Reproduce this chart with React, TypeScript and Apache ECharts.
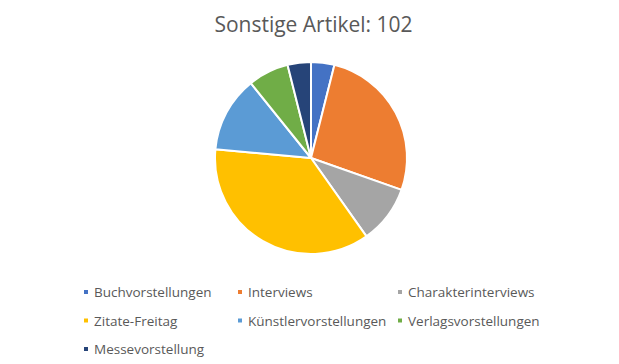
import React, { useEffect, useRef } from "react";
import * as echarts from "echarts";

const categories = [
  "Buchvorstellungen",
  "Interviews",
  "Charakterinterviews",
  "Zitate-Freitag",
  "Künstlervorstellungen",
  "Verlagsvorstellungen",
  "Messevorstellung",
];
const values = [4, 27, 10, 37, 13, 7, 4];
const colors = ["#4472C4", "#ED7D31", "#A5A5A5", "#FFC000", "#5B9BD5", "#70AD47", "#264478"];
const titleText = "Sonstige Artikel: 102";

const legendColumns = [
  ["Buchvorstellungen", "Zitate-Freitag", "Messevorstellung"],
  ["Interviews", "Künstlervorstellungen"],
  ["Charakterinterviews", "Verlagsvorstellungen"],
];
const legendLefts = [74, 228, 388];

export default function App() {
  const ref = useRef<HTMLDivElement>(null);
  useEffect(() => {
    if (!ref.current) return;
    const chart = echarts.init(ref.current, undefined, { renderer: "svg" });
    const font = "'Open Sans', 'Liberation Sans', sans-serif";
    chart.setOption({
      animation: false,
      backgroundColor: "#ffffff",
      title: {
        text: titleText,
        left: "center",
        top: 5,
        padding: 0,
        textStyle: { fontFamily: font, fontSize: 21, fontWeight: "normal", color: "#595959" },
      },
      legend: legendColumns.map((col, i) => ({
        data: col,
        orient: "vertical",
        left: legendLefts[i],
        top: 275.5,
        height: 90,
        padding: 0,
        itemWidth: 6,
        itemHeight: 6,
        itemGap: 11.5,
        icon: "rect",
        selectedMode: false,
        textStyle: { fontFamily: font, fontSize: 13.5, lineHeight: 17, color: "#595959" },
      })),
      series: [
        {
          type: "pie",
          center: [303, 150],
          radius: 96,
          startAngle: 90,
          clockwise: true,
          label: { show: false },
          labelLine: { show: false },
          emphasis: { disabled: true },
          itemStyle: { borderColor: "#ffffff", borderWidth: 2 },
          data: categories.map((name, i) => ({
            name,
            value: values[i],
            itemStyle: { color: colors[i] },
          })),
        },
      ],
    });
    return () => chart.dispose();
  }, []);
  return (
    <div
      ref={ref}
      style={{ position: "absolute", left: 8, top: 8, width: 611, height: 356 }}
    />
  );
}
